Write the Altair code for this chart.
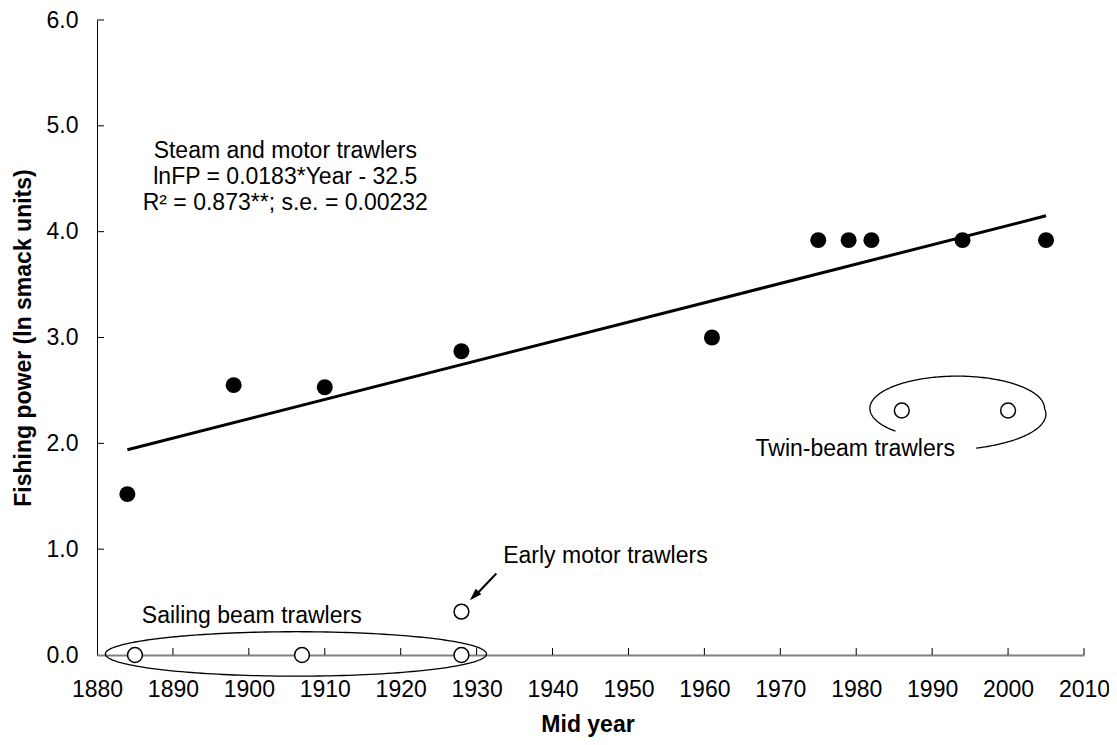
import altair as alt
import pandas as pd
import numpy as np

# ---- data ----
steam_year = [1884, 1898, 1910, 1928, 1961, 1975, 1979, 1982, 1994, 2005]
steam_fp = [1.52, 2.55, 2.53, 2.87, 3.00, 3.92, 3.92, 3.92, 3.92, 3.92]

other_year = [1885, 1907, 1928, 1928, 1986, 2000]
other_fp = [0.0, 0.0, 0.0, 0.41, 2.31, 2.31]

fit_year = [1884, 2005]
fit_fp = [1.94, 4.15]

x_ticks = list(range(1880, 2011, 10))
y_ticks = [0, 1, 2, 3, 4, 5, 6]

eq_lines = ["Steam and motor trawlers", "lnFP = 0.0183*Year - 32.5", "R\u00b2 = 0.873**; s.e. = 0.00232"]
eq_y = [4.76, 4.515, 4.27]
eq_x = 1904.8

# ellipse annotations (centre, radii in data units, start/end angle in degrees, tail growth)
ell_name = ["sail", "twin"]
ell_cx = [1906.2, 1993.3]
ell_cy = [0.01, 2.33]
ell_rx = [25.1, 11.5]
ell_ry = [0.21, 0.305]
ell_t0 = [140.8, 225.0]
ell_t1 = [-294.5, -80.0]
ell_grow = [0.0, 0.25]

FONT = "Liberation Sans"
FS = 23
W, H = 987, 635

steam = pd.DataFrame({"year": steam_year, "fp": steam_fp})
other = pd.DataFrame({"year": other_year, "fp": other_fp})
fit = pd.DataFrame({"year": fit_year, "fp": fit_fp})

rows = []
for name, cx, cy, rx, ry, t0, t1, g in zip(ell_name, ell_cx, ell_cy, ell_rx, ell_ry, ell_t0, ell_t1, ell_grow):
    ts = np.linspace(t0, t1, 240)
    for i, t in enumerate(ts):
        frac = (0.0 - t) / (0.0 - t1) if (g > 0 and t < 0) else 0.0
        m = 1 + g * frac
        rows.append({"name": name, "i": i,
                     "year": cx + rx * m * np.cos(np.radians(t)),
                     "fp": cy + ry * m * np.sin(np.radians(t))})
ell = pd.DataFrame(rows)

xs = alt.Scale(domain=[1880, 2010], nice=False, zero=False)
ys = alt.Scale(domain=[0, 6], nice=False, zero=False)

xax = alt.Axis(values=x_ticks, format="d", ticks=False, grid=False, labelFontSize=FS,
               labelFont=FONT, labelColor="black", labelPadding=41, labelBaseline="alphabetic",
               labelFlush=False, labelOverlap=False,
               domainColor="#808080", domainWidth=2, title="Mid year", titleFont=FONT,
               titleFontSize=FS, titleFontWeight="bold", titleColor="black",
               titleBaseline="alphabetic", titleX=W / 2 - 3, titleY=76)
yax = alt.Axis(values=y_ticks, format=".1f", ticks=False, grid=False, labelFontSize=FS,
               labelFont=FONT, labelColor="black", labelPadding=19, labelFlush=False,
               labelOverlap=False, domainColor="black",
               domainWidth=1, title="Fishing power (ln smack units)", titleFont=FONT,
               titleFontSize=FS, titleFontWeight="bold", titleColor="black",
               titleBaseline="alphabetic", titleAngle=270, titleX=-67, titleY=H / 2)

X = alt.X("year:Q", scale=xs, axis=xax)
Y = alt.Y("fp:Q", scale=ys, axis=yax)

base_fit = alt.Chart(fit).mark_line(color="black", strokeWidth=3).encode(x=X, y=Y)

ell_layer = alt.Chart(ell).mark_line(color="black", strokeWidth=1.3).encode(
    x=alt.X("year:Q", scale=xs), y=alt.Y("fp:Q", scale=ys), detail="name:N", order="i:Q")

pts_filled = alt.Chart(steam).mark_point(filled=True, color="black", size=255, opacity=1).encode(
    x=alt.X("year:Q", scale=xs), y=alt.Y("fp:Q", scale=ys))
pts_open = alt.Chart(other).mark_point(filled=False, fill="white", stroke="black", strokeWidth=1.5,
                                       size=220, opacity=1, fillOpacity=1).encode(
    x=alt.X("year:Q", scale=xs), y=alt.Y("fp:Q", scale=ys))

# inward ticks
ytick_df = pd.DataFrame({"v": y_ticks[1:]})
xtick_df = pd.DataFrame({"v": x_ticks[1:]})
ytk = alt.Chart(ytick_df).mark_rule(color="black", strokeWidth=1).encode(
    y=alt.Y("v:Q", scale=ys), x=alt.value(0), x2=alt.value(7))
xtk = alt.Chart(xtick_df).mark_rule(color="black", strokeWidth=1).encode(
    x=alt.X("v:Q", scale=xs), y=alt.value(H), y2=alt.value(H - 7))

# text annotations
eq_df = pd.DataFrame({"t": eq_lines, "y": eq_y, "x": [eq_x] * 3})
eq_txt = alt.Chart(eq_df).mark_text(font=FONT, fontSize=FS, align="center", baseline="middle",
                                    color="black").encode(
    x=alt.X("x:Q", scale=xs), y=alt.Y("y:Q", scale=ys), text="t:N")

lab_df = pd.DataFrame({"t": ["Sailing beam trawlers", "Early motor trawlers"],
                       "x": [1885.9, 1933.5], "y": [0.30, 0.87]})
lab_txt = alt.Chart(lab_df).mark_text(font=FONT, fontSize=FS, align="left", baseline="alphabetic",
                                      color="black").encode(
    x=alt.X("x:Q", scale=xs), y=alt.Y("y:Q", scale=ys), text="t:N")
twin_df = pd.DataFrame({"t": ["Twin-beam trawlers"], "x": [1993.0], "y": [1.88]})
twin_txt = alt.Chart(twin_df).mark_text(font=FONT, fontSize=FS, align="right", baseline="alphabetic",
                                        color="black").encode(
    x=alt.X("x:Q", scale=xs), y=alt.Y("y:Q", scale=ys), text="t:N")

# arrow to early motor trawlers
arr_df = pd.DataFrame({"x": [1932.6], "y": [0.77], "x2": [1929.8], "y2": [0.56]})
arr = alt.Chart(arr_df).mark_rule(color="black", strokeWidth=2).encode(
    x=alt.X("x:Q", scale=xs), y=alt.Y("y:Q", scale=ys), x2="x2:Q", y2="y2:Q")
head_df = pd.DataFrame({"x": [1929.68], "y": [0.559]})
head = alt.Chart(head_df).mark_point(shape="M0,-1L0.65,1L-0.65,1Z", filled=True, color="black",
                                     size=150, angle=225, opacity=1).encode(
    x=alt.X("x:Q", scale=xs), y=alt.Y("y:Q", scale=ys))

chart = alt.layer(base_fit, ytk, xtk, ell_layer, arr, head, pts_filled, pts_open,
                  eq_txt, lab_txt, twin_txt).properties(
    width=W, height=H,
    padding={"left": 89, "top": 12, "right": 25, "bottom": 82},
    autosize=alt.AutoSizeParams(type="none"),
    background="white",
).configure_view(stroke=None)

chart.save("out.html", embed_options={"renderer": "svg", "actions": False})
